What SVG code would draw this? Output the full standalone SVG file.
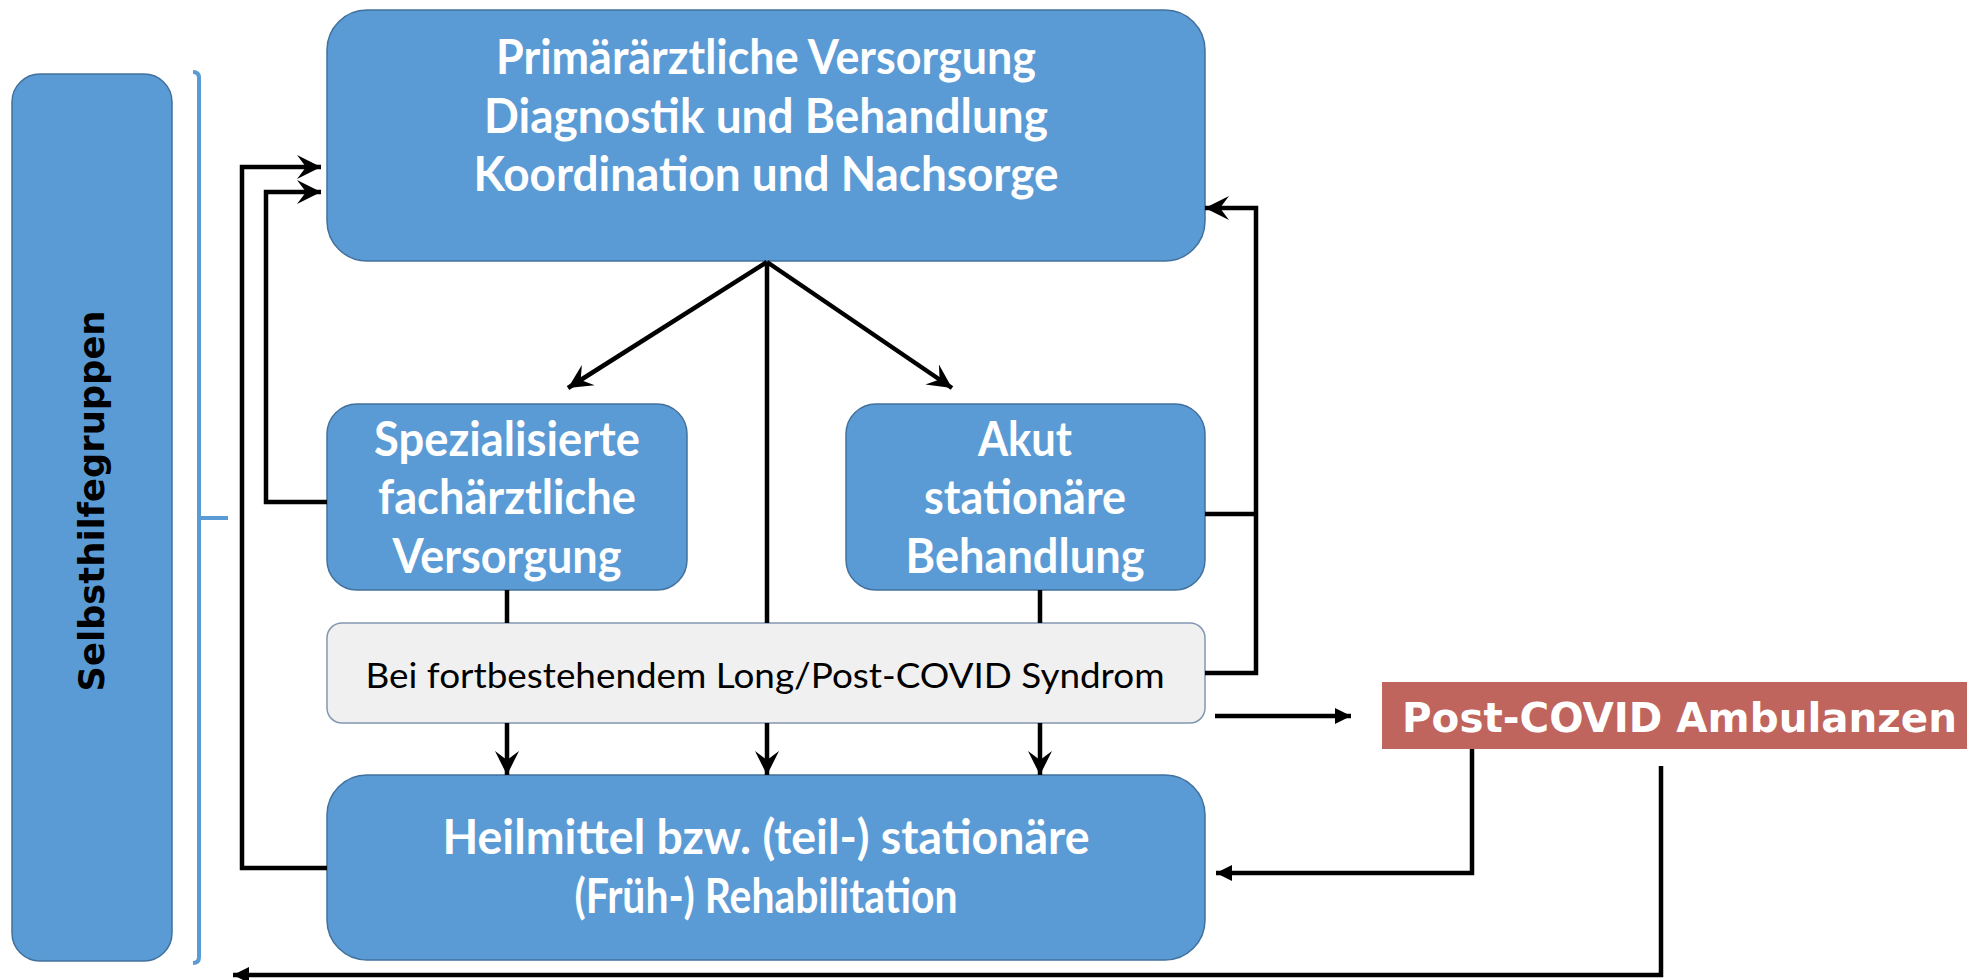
<svg xmlns="http://www.w3.org/2000/svg" width="1967" height="980" viewBox="0 0 1967 980">
<style>
.box{fill:#5b9bd5;stroke:#41719c;stroke-width:1.5}
.gray{fill:#f0f0f0;stroke:#8497b0;stroke-width:1.5}
.red{fill:#c0645e}
.t{font-family:Lato,"Open Sans","Liberation Sans",sans-serif;font-weight:bold;font-size:48px;fill:#ffffff;text-anchor:middle}
.g{font-family:Lato,"Open Sans","Liberation Sans",sans-serif;font-size:35px;fill:#000000;text-anchor:middle}
.v{font-family:"DejaVu Sans","Liberation Sans",sans-serif;font-weight:bold;font-size:36px;fill:#000000;text-anchor:middle}
.p{font-family:"DejaVu Sans","Liberation Sans",sans-serif;font-weight:bold;font-size:40px;fill:#ffffff}
.c{fill:none;stroke:#000000;stroke-width:4.5;stroke-linejoin:miter}
.br{fill:none;stroke:#5b9bd5;stroke-width:4}
</style>
<defs>
<marker id="st" markerUnits="userSpaceOnUse" viewBox="-26 -13 28 26" refX="0" refY="0" markerWidth="28" markerHeight="26" orient="auto">
<path d="M0,0 L-24,-12 L-15,0 L-24,12 Z" fill="#000"/>
</marker>
<marker id="tri" markerUnits="userSpaceOnUse" viewBox="-17 -9 18 18" refX="0" refY="0" markerWidth="18" markerHeight="18" orient="auto">
<path d="M0,0 L-16,-8 L-16,8 Z" fill="#000"/>
</marker>
</defs>

<g id="selbsthilfe">
<rect x="12" y="74" width="160" height="887" rx="28" class="box"/>
<text class="v" transform="translate(104,501) rotate(-90)" textLength="381" lengthAdjust="spacingAndGlyphs">Selbsthilfegruppen</text>
</g>
<g id="bracket">
<path class="br" d="M193,72 Q199,72 199,78 L199,957 Q199,963 193,963 M199,518 H228"/>
</g>

<g id="primaer">
<rect x="327" y="10" width="878" height="251" rx="40" class="box"/>
<text class="t" x="766" y="74" textLength="540" lengthAdjust="spacingAndGlyphs">Primärärztliche Versorgung</text>
<text class="t" x="766" y="133" textLength="564" lengthAdjust="spacingAndGlyphs">Diagnostik und Behandlung</text>
<text class="t" x="766" y="191" textLength="585" lengthAdjust="spacingAndGlyphs">Koordination und Nachsorge</text>
</g>

<g id="spezial">
<rect x="327" y="404" width="360" height="186" rx="30" class="box"/>
<text class="t" x="507" y="456" textLength="266" lengthAdjust="spacingAndGlyphs">Spezialisierte</text>
<text class="t" x="507" y="514" textLength="258" lengthAdjust="spacingAndGlyphs">fachärztliche</text>
<text class="t" x="507" y="573" textLength="229" lengthAdjust="spacingAndGlyphs">Versorgung</text>
</g>

<g id="akut">
<rect x="846" y="404" width="359" height="186" rx="30" class="box"/>
<text class="t" x="1025" y="456" textLength="94" lengthAdjust="spacingAndGlyphs">Akut</text>
<text class="t" x="1025" y="514" textLength="202" lengthAdjust="spacingAndGlyphs">stationäre</text>
<text class="t" x="1025" y="573" textLength="239" lengthAdjust="spacingAndGlyphs">Behandlung</text>
</g>

<g id="fortbestehend">
<rect x="327" y="623" width="878" height="100" rx="15" class="gray"/>
<text class="g" x="765" y="688" textLength="799" lengthAdjust="spacingAndGlyphs">Bei fortbestehendem Long/Post-COVID Syndrom</text>
</g>

<g id="heilmittel">
<rect x="327" y="775" width="878" height="185" rx="40" class="box"/>
<text class="t" x="766" y="854" textLength="647" lengthAdjust="spacingAndGlyphs">Heilmittel bzw. (teil-) stationäre</text>
<text class="t" x="766" y="913" textLength="383" lengthAdjust="spacingAndGlyphs">(Früh-) Rehabilitation</text>
</g>

<g id="postcovid">
<rect x="1382" y="682" width="585" height="67" class="red"/>
<text class="p" x="1402" y="732" textLength="555" lengthAdjust="spacingAndGlyphs">Post-COVID Ambulanzen</text>
</g>

<g id="connectors">
<path class="c" d="M327,868 H242 V167 H321" marker-end="url(#st)"/>
<path class="c" d="M327,502 H266 V192 H321" marker-end="url(#st)"/>
<path class="c" d="M1205,673 H1256 V208 H1205" marker-end="url(#st)"/>
<path class="c" d="M1205,514 H1256"/>
<path class="c" d="M767,262 L568,388" marker-end="url(#st)"/>
<path class="c" d="M767,262 L952,388" marker-end="url(#st)"/>
<path class="c" d="M767,262 V623"/>
<path class="c" d="M507,590 V623"/>
<path class="c" d="M1040,590 V623"/>
<path class="c" d="M507,723 V775" marker-end="url(#st)"/>
<path class="c" d="M767,723 V775" marker-end="url(#st)"/>
<path class="c" d="M1040,723 V775" marker-end="url(#st)"/>
<path class="c" d="M1215,716 H1351" marker-end="url(#tri)"/>
<path class="c" d="M1472,749 V873 H1216" marker-end="url(#tri)"/>
<path class="c" d="M1661,766 V975 H233" marker-end="url(#tri)"/>
</g>
</svg>
